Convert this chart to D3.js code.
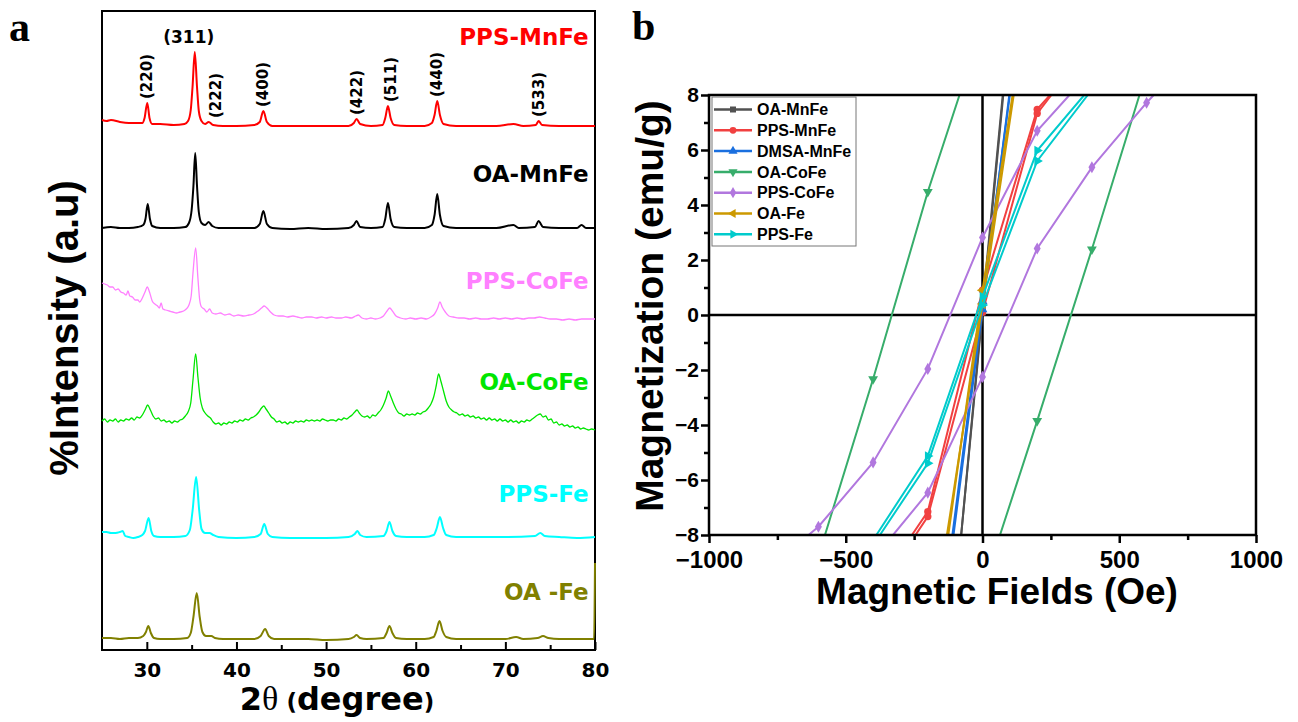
<!DOCTYPE html>
<html>
<head>
<meta charset="utf-8">
<script src="https://cdn.jsdelivr.net/npm/d3@7"></script>
<style>
  body { margin: 0; background: #fff; }
  svg text { font-family: "Liberation Sans", Arial, sans-serif; font-weight: bold; }
</style>
</head>
<body>
<svg id="chart" width="1298" height="722"></svg>
<script>
// ---------- panel a : XRD patterns, [2theta, intensity above own baseline] ----------
var ppsMnFe = [[25,5],[25.5,4],[26,5],[27,3],[28,2],[29,2],[29.5,2],[29.75,7],[30.05,22],[30.3,7],[30.6,1],[31.5,1],[33,0],[34.2,1],[34.6,4],[34.9,15],[35.1,38],[35.35,73],[35.6,38],[35.8,14],[36.1,4],[36.5,1],[36.9,3],[37.4,0],[38.5,-1],[40,-1],[42,0],[42.6,3],[43.0,14],[43.4,3],[44,-1],[46,-1],[48,-1],[50,-1],[52.5,-1],[53.1,2],[53.4,6],[53.8,1],[55,-1],[56.3,0],[56.6,7],[56.9,19],[57.2,7],[57.6,0],[59,-1],[61,-1],[61.8,2],[62.1,10],[62.4,24],[62.7,10],[63.1,1],[64.5,-1],[67,-1],[69,-1],[70.9,1],[72,-1],[73.4,0],[73.7,4],[74.1,0],[76,-1],[78,-1],[80,-1]];
var oaMnFe = [[25,0],[26,1],[27,0],[28,0],[29,1],[29.6,3],[29.85,9],[30.1,24],[30.35,9],[30.6,2],[31.5,0],[33,0],[34.3,1],[34.7,5],[35.0,18],[35.2,42],[35.4,75],[35.6,42],[35.8,16],[36.1,5],[36.5,3],[36.9,6],[37.3,2],[38,0],[40,0],[42,0],[42.6,4],[43.0,17],[43.4,4],[44,0],[46,-1],[48,0],[50,-1],[52.5,0],[53.1,3],[53.4,7],[53.8,1],[55,0],[56.3,1],[56.6,9],[56.9,25],[57.2,9],[57.6,1],[59,0],[61,0],[61.8,3],[62.1,13],[62.4,34],[62.7,13],[63.1,2],[64.5,0],[67,0],[69,0],[70.9,3],[71.5,0],[73.3,1],[73.7,7],[74.2,1],[76,0],[78,0],[78.5,3],[79,0],[80,0]];
var ppsCoFe = [[25,35],[25.3,34],[25.6,33],[25.9,31],[26.2,31],[26.5,28],[26.8,29],[27.1,26],[27.4,25],[27.7,23],[27.9,27],[28.1,22],[28.4,21],[28.7,18],[29.0,18],[29.2,16],[29.5,20],[29.8,26],[30.05,31],[30.3,26],[30.6,17],[30.9,14],[31.2,12],[31.4,10],[31.6,15],[31.8,9],[32.1,8],[32.5,7],[32.9,6],[33.3,5],[33.7,6],[34.1,7],[34.4,9],[34.7,13],[34.95,22],[35.15,45],[35.45,70],[35.7,40],[35.9,18],[36.1,11],[36.4,9],[36.7,6],[37.0,9],[37.3,5],[37.7,4],[38.2,5],[38.7,3],[39.2,4],[39.7,2],[40.2,3],[40.8,2],[41.4,3],[41.9,4],[42.4,7],[42.8,10],[43.1,12],[43.4,10],[43.8,6],[44.2,3],[44.7,2],[45.2,2],[45.7,1],[46.3,2],[46.8,1],[47.3,0],[47.8,1],[48.4,1],[48.9,0],[49.5,1],[50.0,0],[50.6,1],[51.1,0],[51.7,0],[52.2,1],[52.8,0],[53.3,2],[53.6,3],[54.0,0],[54.5,-1],[55.0,0],[55.5,-1],[56.0,0],[56.4,2],[56.8,7],[57.1,10],[57.4,7],[57.8,2],[58.3,0],[58.9,-1],[59.4,0],[60.0,-1],[60.6,0],[61.2,-1],[61.7,1],[62.1,4],[62.45,10],[62.7,16],[62.95,11],[63.3,6],[63.7,2],[64.2,1],[64.8,0],[65.4,0],[66.0,-1],[66.7,0],[67.3,-1],[68.0,-1],[68.7,0],[69.3,-1],[70.0,0],[70.7,-1],[71.3,0],[72.0,-1],[72.6,0],[73.2,0],[73.8,1],[74.4,0],[75.0,-1],[75.7,-1],[76.4,-2],[77.1,-1],[77.8,-2],[78.5,-1],[79.2,-1],[80,-1]];
var oaCoFe = [[25,4],[25.3,6],[25.6,3],[25.9,5],[26.2,4],[26.5,6],[26.8,3],[27.1,5],[27.4,4],[27.7,6],[28.0,5],[28.3,7],[28.6,5],[28.9,8],[29.2,7],[29.5,10],[29.8,15],[30.1,20],[30.4,15],[30.7,9],[31.0,6],[31.3,7],[31.6,4],[31.9,5],[32.2,3],[32.5,4],[32.8,2],[33.1,4],[33.4,3],[33.7,5],[34.0,6],[34.3,9],[34.6,13],[34.9,22],[35.15,45],[35.45,71],[35.7,48],[35.95,27],[36.2,17],[36.5,12],[36.8,9],[37.1,7],[37.4,3],[37.7,1],[38.0,2],[38.3,0],[38.6,2],[38.9,1],[39.2,3],[39.5,2],[39.8,4],[40.1,3],[40.4,5],[40.7,4],[41.0,6],[41.3,5],[41.6,7],[41.9,8],[42.2,10],[42.5,13],[42.8,17],[43.05,19],[43.3,16],[43.6,12],[43.9,8],[44.2,6],[44.5,3],[44.8,4],[45.1,2],[45.4,3],[45.7,1],[46.0,3],[46.3,2],[46.6,4],[46.9,3],[47.2,4],[47.5,3],[47.8,5],[48.1,4],[48.4,5],[48.7,4],[49.0,5],[49.3,4],[49.6,6],[49.9,5],[50.2,4],[50.5,5],[50.8,5],[51.1,4],[51.4,6],[51.7,5],[52.0,7],[52.3,6],[52.6,8],[52.9,10],[53.2,13],[53.45,15],[53.7,12],[54.0,9],[54.3,8],[54.6,9],[54.9,7],[55.2,10],[55.5,9],[55.8,12],[56.1,15],[56.4,20],[56.7,27],[56.95,34],[57.2,29],[57.5,22],[57.8,16],[58.1,12],[58.4,11],[58.7,9],[59.0,11],[59.3,10],[59.6,11],[59.9,10],[60.2,12],[60.5,11],[60.8,13],[61.1,14],[61.4,17],[61.7,21],[62.0,28],[62.3,40],[62.55,51],[62.8,44],[63.1,34],[63.4,24],[63.7,18],[64.0,15],[64.3,13],[64.6,12],[64.9,10],[65.2,11],[65.5,9],[65.8,10],[66.1,8],[66.4,9],[66.7,7],[67.0,8],[67.3,6],[67.6,7],[67.9,5],[68.2,7],[68.5,5],[68.8,6],[69.1,4],[69.4,6],[69.7,4],[70.0,5],[70.3,3],[70.6,5],[70.9,3],[71.2,4],[71.5,2],[71.8,4],[72.1,3],[72.4,5],[72.7,4],[73.0,6],[73.3,8],[73.6,10],[73.9,11],[74.2,8],[74.5,9],[74.8,5],[75.1,6],[75.4,2],[75.7,3],[76.0,0],[76.3,1],[76.6,-1],[76.9,0],[77.2,-2],[77.5,-1],[77.8,-3],[78.1,-2],[78.4,-4],[78.7,-3],[79.0,-4],[79.3,-5],[79.6,-4],[80,-5]];
var ppsFe = [[25,5],[25.5,5],[26,4],[26.5,4],[27,5],[27.3,6],[27.6,1],[28,0],[28.5,-1],[29,0],[29.5,2],[29.8,6],[30.2,19],[30.5,6],[30.8,1],[31.5,0],[33,0],[34.3,1],[34.8,7],[35.1,26],[35.5,60],[35.85,26],[36.1,8],[36.5,4],[37.0,4],[37.4,2],[38,0],[40,-1],[42,0],[42.7,3],[43.1,13],[43.5,3],[44,0],[46,-1],[48,-1],[50,-1],[52.5,0],[53.2,3],[53.5,6],[53.8,2],[54.5,0],[56.4,1],[56.75,6],[57.07,15],[57.4,6],[57.8,1],[59,0],[61,0],[62,2],[62.35,9],[62.7,20],[63.05,9],[63.4,2],[64.5,0],[67,0],[70,0],[73.3,1],[73.9,4],[74.4,1],[76,0],[78,-1],[80,0]];
var oaFe = [[25,1],[26,1],[27,0],[28,1],[29,1],[29.6,3],[29.9,7],[30.17,13],[30.45,6],[30.8,1],[31.5,0],[33,0],[34.5,1],[34.9,6],[35.2,22],[35.57,46],[35.9,22],[36.2,7],[36.6,3],[37.2,3],[37.6,1],[38.5,0],[40,0],[42,0],[42.7,3],[43.2,10],[43.6,3],[44.2,0],[46,0],[48,0],[50,-1],[52.5,0],[53.1,2],[53.4,4],[53.8,1],[54.5,0],[56.4,1],[56.75,6],[57.07,13],[57.4,6],[57.8,1],[59,0],[61,0],[62,2],[62.3,8],[62.65,18],[63.0,8],[63.4,2],[64.5,0],[67,0],[70,0],[71.2,2],[72,0],[73.6,1],[74.2,3],[74.8,1],[76,0],[78,0],[79.9,0],[80,76]];

var xrdTraces = [ppsMnFe, oaMnFe, ppsCoFe, oaCoFe, ppsFe, oaFe];
var xrdNames = ["PPS-MnFe", "OA-MnFe", "PPS-CoFe", "OA-CoFe", "PPS-Fe", "OA -Fe"];
var xrdOffsets = [525, 422, 332, 225, 113, 11];   // stacking offsets (a.u.)
var xrdTicks = [30, 40, 50, 60, 70, 80];
var xrdMinorTicks = [35, 45, 55, 65, 75];

// Miller indices marked on the top pattern
var hklLabels = ["(220)", "(311)", "(222)", "(400)", "(422)", "(511)", "(440)", "(533)"];
var hklAngles = [30.05, 35.35, 36.9, 43.0, 53.4, 56.9, 62.4, 73.7];

// ---------- panel b : hysteresis loops, [field (Oe), magnetization (emu/g)] ----------
var vsmNames = ["OA-MnFe", "PPS-MnFe", "DMSA-MnFe", "OA-CoFe", "PPS-CoFe", "OA-Fe", "PPS-Fe"];
var vsmDown = [
  [[74,8],[0,0.3],[-78,-8]],
  [[247,8],[200,7.48],[0,0.9],[-200,-7.15],[-258,-8]],
  [[100,8],[0,0.5],[-110,-8]],
  [[-84,8],[-200,4.48],[-400,-2.33],[-576,-8]],
  [[318,8],[200,6.70],[0,2.82],[-200,-1.96],[-400,-5.36],[-600,-7.70],[-636,-8]],
  [[110,8],[0,0.9],[-125,-8]],
  [[372,8],[200,5.98],[0,0.67],[-200,-5.13],[-388,-8]]
];
var vsmUp = [
  [[-78,-8],[0,0.1],[76,8]],
  [[-245,-8],[-200,-7.33],[0,0.1],[200,7.33],[252,8]],
  [[-106,-8],[0,0.2],[98,8]],
  [[64,-8],[200,-3.85],[400,2.39],[574,8]],
  [[-327,-8],[-200,-6.46],[0,-2.25],[200,2.42],[400,5.37],[600,7.72],[626,8]],
  [[-130,-8],[0,0.4],[114,8]],
  [[-375,-8],[-200,-5.39],[0,0.36],[200,5.6],[385,8]]
];
var vsmXTicks = [-1000, -500, 0, 500, 1000];
var vsmXMinor = [-750, -250, 250, 750];
var vsmYTicks = [-8, -6, -4, -2, 0, 2, 4, 6, 8];
var vsmYMinor = [-7, -5, -3, -1, 1, 3, 5, 7];

// ---------- styles ----------
var xrdColors = ["#ff0000", "#000000", "#ff80ff", "#00e600", "#00ffff", "#808000"];
var xrdWidths = [2, 2, 1.3, 1.3, 2, 2];
var labelRise = [80, 46, 29, 35, 35, 39];
var vsmColors = ["#515151", "#F14040", "#1A6FDF", "#37AD6B", "#B177DE", "#CC9900", "#00CBCC"];
var vsmSymbols = [
  { t: d3.symbolSquare, r: 0 }, { t: d3.symbolCircle, r: 0 }, { t: d3.symbolTriangle, r: 0 },
  { t: d3.symbolTriangle, r: 180 }, { t: d3.symbolDiamond, r: 0 }, { t: d3.symbolTriangle, r: -90 },
  { t: d3.symbolTriangle, r: 90 }
];

var svg = d3.select("#chart");
var sans = "DejaVu Sans";

// ================= panel a =================
var ax = d3.scaleLinear().domain([25, 80]).range([102, 595]);
var ay = d3.scaleLinear().domain([0, 639]).range([650, 11]);

// frame first: the last OA-Fe point runs along the right edge over it
svg.append("rect")
  .attr("x", 102).attr("y", 11).attr("width", 493).attr("height", 639)
  .attr("fill", "none").attr("stroke", "#000").attr("stroke-width", 2);

xrdTraces.forEach(function(tr, i) {
  var line = d3.line()
    .x(function(d) { return ax(d[0]); })
    .y(function(d) { return ay(d[1] + xrdOffsets[i]); })
    .curve(d3.curveMonotoneX);
  svg.append("path").datum(tr)
    .attr("fill", "none")
    .attr("stroke", xrdColors[i])
    .attr("stroke-width", xrdWidths[i])
    .attr("stroke-linejoin", "round")
    .attr("d", line);

  svg.append("text")
    .attr("x", ax(79.3))
    .attr("y", ay(xrdOffsets[i]) - labelRise[i])
    .attr("text-anchor", "end")
    .style("font-family", sans)
    .style("font-size", "23px")
    .attr("fill", xrdColors[i])
    .text(xrdNames[i]);
});

// hkl labels above the top pattern
hklLabels.forEach(function(lab, i) {
  var a = hklAngles[i];
  var near = ppsMnFe.filter(function(d) { return Math.abs(d[0] - a) <= 0.3; });
  var top = ay(d3.max(near, function(d) { return d[1]; }) + xrdOffsets[0]);
  if (lab === "(311)") {
    svg.append("text")
      .attr("x", ax(a) - 6).attr("y", top - 9)
      .attr("text-anchor", "middle")
      .style("font-family", sans).style("font-size", "17px")
      .text(lab);
  } else {
    var shift = lab === "(222)" ? 0.8 : (lab === "(511)" ? 0.35 : 0);
    var px = ax(a + shift) + 5;
    svg.append("text")
      .attr("transform", "translate(" + px + "," + (top - 4) + ") rotate(-90)")
      .style("font-family", sans).style("font-size", "15px")
      .text(lab);
  }
});

// x axis (ticks inside)
var gA = svg.append("g").attr("transform", "translate(0,650)")
  .call(d3.axisBottom(ax).tickValues(xrdTicks).tickSize(-8).tickPadding(13).tickFormat(d3.format("d")));
svg.append("g").attr("transform", "translate(0,650)")
  .call(d3.axisBottom(ax).tickValues(xrdMinorTicks).tickSize(-5).tickFormat(""));
svg.selectAll(".domain").remove();
svg.selectAll(".tick line").attr("stroke-width", 2);
gA.selectAll("text").style("font-family", sans).style("font-size", "20px").attr("fill", "#000");

svg.append("text")
  .attr("transform", "translate(78,328) rotate(-90)")
  .attr("text-anchor", "middle")
  .style("font-size", "40px")
  .text("%Intensity (a.u)");

var xl = svg.append("text").attr("x", 337).attr("y", 710).attr("text-anchor", "middle")
  .style("font-family", sans);
xl.append("tspan").style("font-size", "32px").text("2");
xl.append("tspan").style("font-family", "Liberation Serif").style("font-weight", "normal").style("font-size", "34px").text("\u03b8");
xl.append("tspan").style("font-size", "23px").text(" (");
xl.append("tspan").style("font-size", "32px").text("degree");
xl.append("tspan").style("font-size", "23px").text(")");

svg.append("text").attr("x", 9).attr("y", 41)
  .style("font-family", "Liberation Serif").style("font-size", "42px").text("a");

// ================= panel b =================
var bx = d3.scaleLinear().domain([-1000, 1000]).range([709, 1256]);
var by = d3.scaleLinear().domain([-8, 8]).range([535, 95]);

svg.append("clipPath").attr("id", "clipB")
  .append("rect").attr("x", 709).attr("y", 95).attr("width", 547).attr("height", 440);

var gB = svg.append("g");
var gX = gB.append("g").attr("transform", "translate(0,535)")
  .call(d3.axisBottom(bx).tickValues(vsmXTicks).tickSize(8).tickPadding(8).tickFormat(d3.format("d")));
gB.append("g").attr("transform", "translate(0,535)")
  .call(d3.axisBottom(bx).tickValues(vsmXMinor).tickSize(5).tickFormat(""));
var gY = gB.append("g").attr("transform", "translate(709,0)")
  .call(d3.axisLeft(by).tickValues(vsmYTicks).tickSize(8).tickPadding(2).tickFormat(d3.format("d")));
gB.append("g").attr("transform", "translate(709,0)")
  .call(d3.axisLeft(by).tickValues(vsmYMinor).tickSize(5).tickFormat(""));
gB.selectAll(".domain").remove();
gB.selectAll(".tick line").attr("stroke-width", 2.5);
gX.selectAll("text").style("font-family", "Liberation Sans").style("font-size", "24px").attr("fill", "#000");
gY.selectAll("text").style("font-family", "Liberation Sans").style("font-size", "21px").attr("fill", "#000");

// zero lines
gB.append("line").attr("x1", bx(0)).attr("x2", bx(0)).attr("y1", 95).attr("y2", 535)
  .attr("stroke", "#000").attr("stroke-width", 2.5);
gB.append("line").attr("x1", 709).attr("x2", 1256).attr("y1", by(0)).attr("y2", by(0))
  .attr("stroke", "#000").attr("stroke-width", 2.5);

var plotB = svg.append("g").attr("clip-path", "url(#clipB)");
var bLine = d3.line().x(function(d) { return bx(d[0]); }).y(function(d) { return by(d[1]); });

vsmNames.forEach(function(name, i) {
  [vsmDown[i], vsmUp[i]].forEach(function(branch) {
    plotB.append("path").datum(branch)
      .attr("fill", "none").attr("stroke", vsmColors[i]).attr("stroke-width", 2)
      .attr("d", bLine);
    var pts = branch.filter(function(d) { return Math.abs(d[1]) < 7.95 && Math.abs(d[0]) <= 1000; });
    plotB.selectAll(null).data(pts).enter().append("path")
      .attr("d", d3.symbol().type(vsmSymbols[i].t).size(42))
      .attr("transform", function(d) { return "translate(" + bx(d[0]) + "," + by(d[1]) + ") rotate(" + vsmSymbols[i].r + ")"; })
      .attr("fill", vsmColors[i]);
  });
});

svg.append("rect")
  .attr("x", 709).attr("y", 95).attr("width", 547).attr("height", 440)
  .attr("fill", "none").attr("stroke", "#000").attr("stroke-width", 2.5);

// legend
var leg = svg.append("g");
leg.append("rect").attr("x", 712).attr("y", 97).attr("width", 144).attr("height", 149)
  .attr("fill", "#fff").attr("stroke", "#777").attr("stroke-width", 1);
vsmNames.forEach(function(name, i) {
  var yy = 109.5 + i * 20.8;
  leg.append("line").attr("x1", 714).attr("x2", 752).attr("y1", yy).attr("y2", yy)
    .attr("stroke", vsmColors[i]).attr("stroke-width", 2.5);
  leg.append("path")
    .attr("d", d3.symbol().type(vsmSymbols[i].t).size(36))
    .attr("transform", "translate(733," + yy + ") rotate(" + vsmSymbols[i].r + ")")
    .attr("fill", vsmColors[i]);
  leg.append("text").attr("x", 757).attr("y", yy).attr("dy", "0.36em")
    .style("font-size", "16px").text(name);
});

svg.append("text")
  .attr("transform", "translate(663,306) rotate(-90)")
  .attr("text-anchor", "middle")
  .style("font-size", "39px")
  .text("Magnetization (emu/g)");

svg.append("text").attr("x", 997).attr("y", 604).attr("text-anchor", "middle")
  .style("font-size", "37px").text("Magnetic Fields (Oe)");

svg.append("text").attr("x", 632).attr("y", 40)
  .style("font-family", "Liberation Serif").style("font-size", "42px").text("b");
</script>
</body>
</html>
